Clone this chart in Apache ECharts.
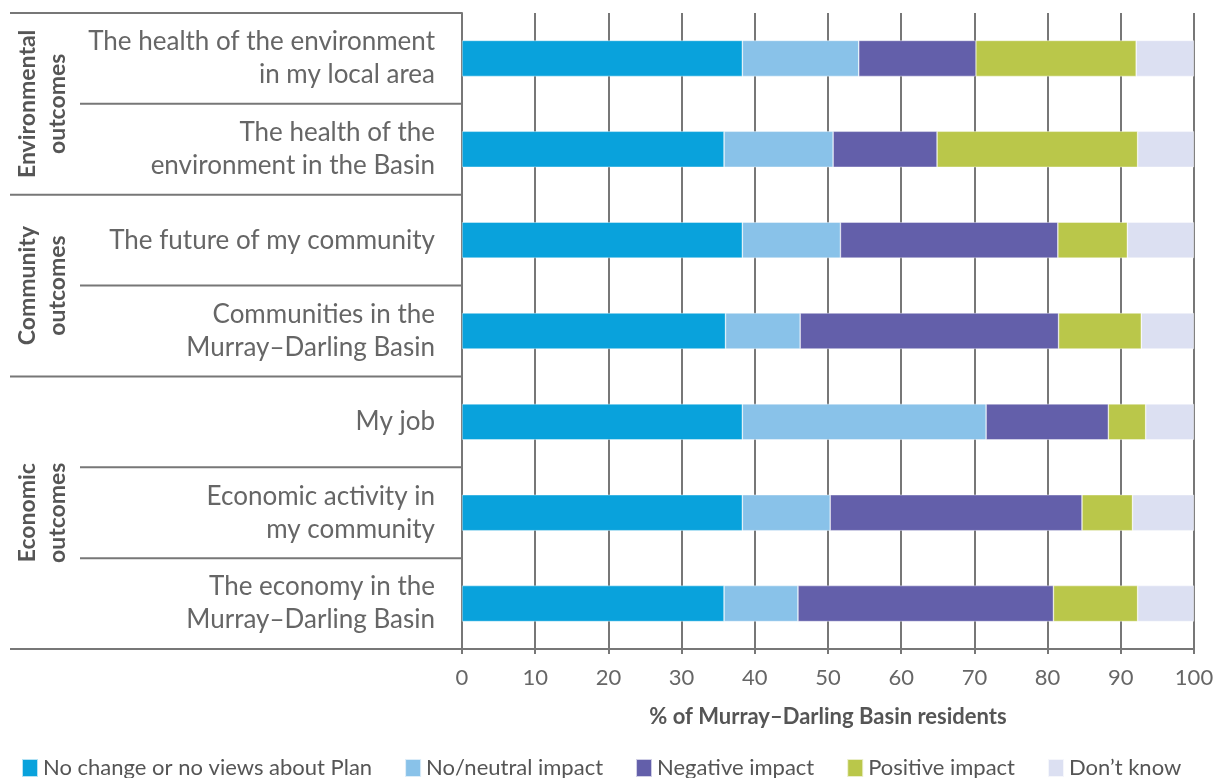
<!DOCTYPE html>
<html>
<head>
<meta charset="utf-8">
<script src="https://cdn.jsdelivr.net/npm/echarts@6/dist/echarts.min.js"></script>
<style>
  html, body { margin: 0; padding: 0; background: #fff; }
  #chart { width: 1224px; height: 778px; }
</style>
</head>
<body>
<div id="chart"></div>
<script>
// categories, top to bottom
const categories = [
  'The health of the environment\nin my local area',
  'The health of the\nenvironment in the Basin',
  'The future of my community',
  'Communities in the\nMurray–Darling Basin',
  'My job',
  'Economic activity in\nmy community',
  'The economy in the\nMurray–Darling Basin'
];

// % of residents per answer
const noChange = [38.3, 35.8, 38.3, 36.0, 38.3, 38.3, 35.8];
const neutral  = [15.9, 14.9, 13.4, 10.2, 33.3, 12.0, 10.1];
const negative = [16.0, 14.2, 29.7, 35.3, 16.7, 34.4, 34.9];
const positive = [21.9, 27.4,  9.5, 11.3,  5.1,  6.9, 11.5];
const dontKnow = [ 7.9,  7.7,  9.1,  7.2,  6.6,  8.4,  7.7];

const seriesNames = ['No change or no views about Plan', 'No/neutral impact', 'Negative impact', 'Positive impact', 'Don\u2019t know'];
const colors = ['#09a2dc', '#89c2e9', '#635faa', '#bac74a', '#dce0f2'];

// group labels on the left: first and last category index
const groups = [
  { name: 'Environmental\noutcomes', from: 0, to: 1 },
  { name: 'Community\noutcomes', from: 2, to: 3 },
  { name: 'Economic\noutcomes', from: 4, to: 6 }
];

const xTicks = [0, 100, 10]; // min, max, interval

const chart = echarts.init(document.getElementById('chart'));
const font = 'Lato, "Noto Sans", sans-serif';
const lineCol = '#777';

const option = {
  animation: false,
  textStyle: { fontFamily: font },
  color: colors,
  grid: { left: 462, right: 30, top: 13, bottom: 129 },
  legend: {
    left: 16, top: 752,
    icon: 'rect', itemWidth: 16, itemHeight: 18, itemGap: 32,
    textStyle: { fontSize: 22, color: '#555', fontFamily: font },
    data: seriesNames
  },
  xAxis: {
    type: 'value', min: xTicks[0], max: xTicks[1], interval: xTicks[2],
    name: '% of Murray\u2013Darling Basin residents',
    nameLocation: 'middle', nameGap: 57,
    nameTextStyle: { fontSize: 22, fontWeight: 'bold', color: '#555' },
    axisLine: { show: true, lineStyle: { color: lineCol, width: 2 } },
    axisTick: { show: true, length: 5, lineStyle: { color: lineCol, width: 2 } },
    axisLabel: { fontSize: 22, color: '#666', margin: 18 },
    splitLine: { show: true, lineStyle: { color: lineCol, width: 2 } }
  },
  yAxis: {
    type: 'category', inverse: true, data: categories,
    axisLine: { show: true, lineStyle: { color: lineCol, width: 2 } },
    axisTick: { show: false },
    axisLabel: { fontSize: 26, color: '#666', margin: 27, lineHeight: 33, align: 'right', padding: [8, 0, 0, 0] }
  },
  series: [noChange, neutral, negative, positive, dontKnow].map((d, i) => ({
    name: seriesNames[i],
    type: 'bar', stack: 'total', barWidth: 36,
    itemStyle: { borderColor: 'rgba(255,255,255,0.7)', borderWidth: 0.6 },
    data: d
  }))
};
chart.setOption(option);

// separators and group titles, placed from the category axis
const yc = categories.map((c, i) => chart.convertToPixel({ yAxisIndex: 0 }, i));
const band = yc[1] - yc[0];
const edge = i => yc[0] + (i - 0.5) * band; // boundary above category i
const axisX = chart.convertToPixel({ xAxisIndex: 0 }, 0);
const groupEdges = new Set([0]);
groups.forEach(g => groupEdges.add(g.to + 1));

const graphics = [];
for (let i = 0; i <= categories.length; i++) {
  const y = edge(i);
  graphics.push({
    type: 'line',
    shape: { x1: groupEdges.has(i) ? 10 : 80, y1: y, x2: axisX, y2: y },
    style: { stroke: lineCol, lineWidth: 2 }
  });
}
groups.forEach(g => {
  const cy = (edge(g.from) + edge(g.to + 1)) / 2;
  graphics.push({
    type: 'text', x: 43, y: cy, rotation: Math.PI / 2,
    style: {
      text: g.name, align: 'center', verticalAlign: 'middle',
      font: 'bold 23px ' + font, fill: '#555', lineHeight: 30
    }
  });
});
chart.setOption({ graphic: graphics });
</script>
</body>
</html>
